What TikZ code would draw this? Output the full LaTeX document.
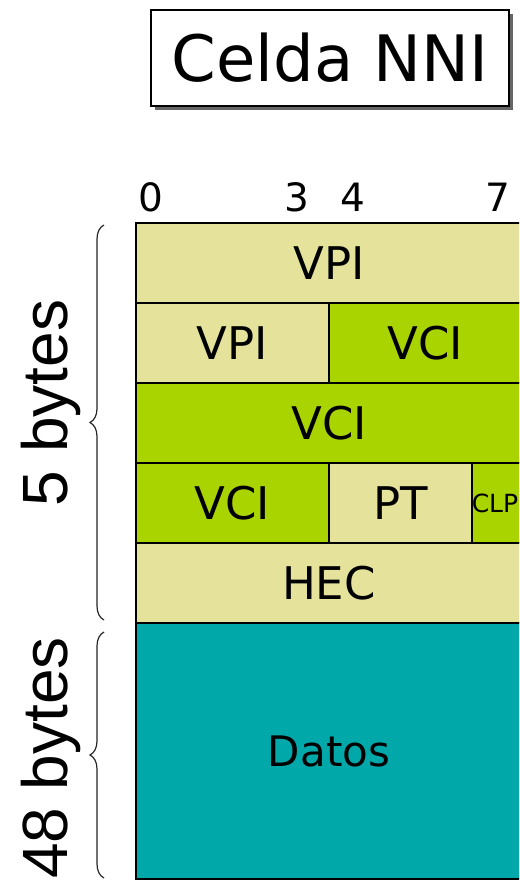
\documentclass[tikz,border=0pt]{standalone}
\usepackage{fontspec}
\setmainfont{DejaVu Sans}
\newfontfamily\bytesfont{Liberation Sans}
\usetikzlibrary{shadows,decorations.pathreplacing}
\definecolor{khaki}{RGB}{229,227,155}
\definecolor{lime}{RGB}{170,212,0}
\definecolor{teal}{RGB}{0,168,170}
\tikzset{
  cell/.style={draw=black, line width=2pt, anchor=north west, inner sep=0pt,
    font=\fontsize{45}{45}\selectfont},
  bitnum/.style={font=\fontsize{39}{39}\selectfont, inner sep=0pt},
  bytelbl/.style={font=\bytesfont\fontsize{64}{64}\selectfont, rotate=90, inner sep=0pt},
  bracestyle/.style={decorate, decoration={brace, amplitude=14pt, mirror}, line width=1.2pt, draw=black!85}
}
\begin{document}
\begin{tikzpicture}[x=1pt,y=-1pt]
\clip (0,0) rectangle (519,880);
\fill[white] (0,0) rectangle (519,880);
% title
\node[draw=black, line width=2pt, fill=white, minimum width=358pt, minimum height=96pt,
  drop shadow={shadow xshift=4pt, shadow yshift=-4pt, opacity=0.85, fill=black!70},
  font=\fontsize{64}{64}\selectfont, inner sep=0pt] (title) at (330,58) {Celda NNI};
% bit numbers
\node[bitnum] (b0) at (151,197) {0};
\node[bitnum] (b3) at (297,197) {3};
\node[bitnum] (b4) at (353,197) {4};
\node[bitnum] (b7) at (498,197) {7};
% rows
\node[cell, fill=khaki, minimum width=386pt, minimum height=80pt] (vpi1) at (135,222) {VPI};
\node[cell, fill=khaki, minimum width=193pt, minimum height=80pt] (vpi2) at (135,302) {VPI};
\node[cell, fill=lime, minimum width=193pt, minimum height=80pt] (vci1) at (328,302) {VCI};
\node[cell, fill=lime, minimum width=386pt, minimum height=80pt] (vci2) at (135,382) {VCI};
\node[cell, fill=lime, minimum width=193pt, minimum height=80pt] (vci3) at (135,462) {VCI};
\node[cell, fill=khaki, minimum width=143pt, minimum height=80pt] (pt) at (328,462) {PT};
\node[cell, fill=lime, minimum width=50pt, minimum height=80pt] (clp) at (471,462) {};
\node[font=\fontsize{25}{25}\selectfont, inner sep=0pt] (clptxt) at (495,503) {CLP};
\node[cell, fill=khaki, minimum width=386pt, minimum height=80pt] (hec) at (135,542) {HEC};
\node[cell, fill=teal, minimum width=386pt, minimum height=256pt, font=\fontsize{42}{42}\selectfont] (datos) at (135,622) {Datos};
% braces
\coordinate (br1t) at (104,225);
\coordinate (br1b) at (104,620);
\coordinate (br2t) at (104,632);
\coordinate (br2b) at (104,878);
\draw[bracestyle] (br1t) -- (br1b);
\draw[bracestyle] (br2t) -- (br2b);
% byte labels
\node[bytelbl] (l5) at (51,403) {5 bytes};
\node[bytelbl] (l48) at (51,758) {48 bytes};
\end{tikzpicture}
\end{document}
